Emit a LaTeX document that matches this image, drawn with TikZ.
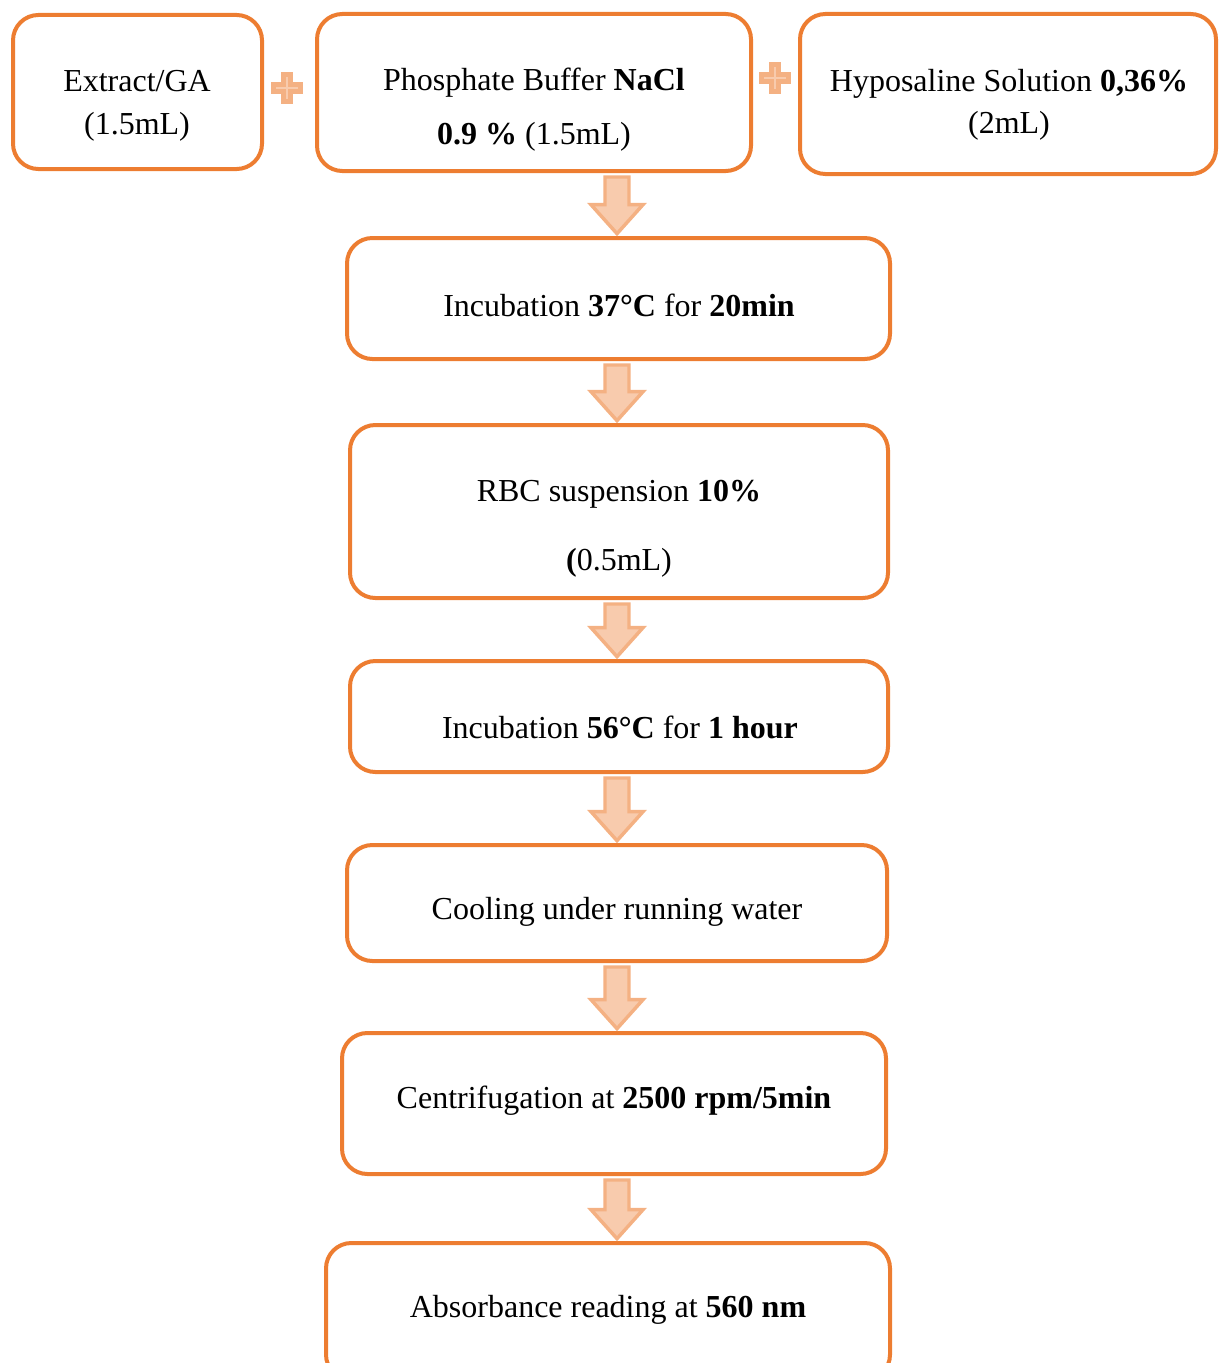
\documentclass[tikz,border=0pt]{standalone}
\usepackage{fontspec}
\setmainfont{Liberation Serif}
\usetikzlibrary{calc}
\definecolor{boxorange}{HTML}{ED7D31}
\definecolor{arrfill}{HTML}{F8CBAD}
\definecolor{arrline}{HTML}{F4B183}
\tikzset{
  box/.style 2 args={draw=boxorange, line width=3pt, rounded corners=19pt,
    minimum width={#1*0.75pt}, minimum height={#2*0.75pt}, inner sep=0pt, fill=white},
  txt/.style={font=\fontsize{24}{29}\selectfont, align=center, inner sep=0pt},
  farrow/.style={fill=arrfill, draw=arrline, line width=2.6pt, line join=miter},
}
\newcommand\flowarrow[2]{%
  \path[farrow] let \p1=(#1.south), \p2=(#2.north) in
    ({605*0.75pt},{\y1-3pt}) -- ({629*0.75pt},{\y1-3pt}) --
    ({629*0.75pt},{\y2+23.5pt}) -- ({643*0.75pt},{\y2+23.5pt}) --
    ({617*0.75pt},{\y2+1.75pt}) -- ({591*0.75pt},{\y2+23.5pt}) --
    ({605*0.75pt},{\y2+23.5pt}) -- cycle;}
\newcommand\plussign[2]{%
  \fill[arrline] ({#1-16},{#2-6}) rectangle ({#1+16},{#2+6});
  \fill[arrline] ({#1-6},{#2-16}) rectangle ({#1+6},{#2+16});
  \draw[arrfill, line width=1.4pt] ({#1-11},{#2}) -- ({#1+11},{#2}) ({#1},{#2-11}) -- ({#1},{#2+11});}
\begin{document}
\begin{tikzpicture}[x=0.75pt, y=-0.75pt]
\useasboundingbox (0,0) rectangle (1218,1363);
\clip (0,0) rectangle (1218,1363);
% boxes
\node[box={249}{154}] (b1) at (137.5,92) {};
\node[box={434}{157}] (b2) at (534,92.5) {};
\node[box={416}{160}] (b3) at (1008,94) {};
\node[box={543}{121}] (b4) at (618.5,298.5) {};
\node[box={538}{173}] (b5) at (619,511.5) {};
\node[box={538}{111}] (b6) at (619,716.5) {};
\node[box={540}{116}] (b7) at (617,903) {};
\node[box={544}{141}] (b8) at (614,1103.5) {};
\node[box={564}{137}] (b9) at (608,1311.5) {};
% texts
\node[txt, font=\fontsize{24}{32.25}\selectfont] (t1) at (137,106) {Extract/GA\\(1.5mL)};
\node[txt, font=\fontsize{24}{40.5}\selectfont] (t2) at (534,110) {Phosphate Buffer \textbf{NaCl}\\\textbf{0.9 \%} (1.5mL)};
\node[txt, font=\fontsize{24}{31.5}\selectfont] (t3) at (1009,105) {Hyposaline Solution \textbf{0,36\%}\\(2mL)};
\node[txt] (t4) at (619,305) {Incubation \textbf{37°C} for \textbf{20min}};
\node[txt, font=\fontsize{24}{51.75}\selectfont] (t5) at (619,529) {RBC suspension \textbf{10\%}\\\textbf{(}0.5mL)};
\node[txt] (t6) at (620,727) {Incubation \textbf{56°C} for \textbf{1 hour}};
\node[txt] (t7) at (617,912) {Cooling under running water};
\node[txt] (t8) at (614,1101) {Centrifugation at \textbf{2500 rpm/5min}};
\node[txt] (t9) at (608,1310) {Absorbance reading at \textbf{560 nm}};
% plus signs
\plussign{287}{88}
\plussign{775}{78}
% arrows
\flowarrow{b2}{b4}
\flowarrow{b4}{b5}
\flowarrow{b5}{b6}
\flowarrow{b6}{b7}
\flowarrow{b7}{b8}
\flowarrow{b8}{b9}
\end{tikzpicture}
\end{document}
